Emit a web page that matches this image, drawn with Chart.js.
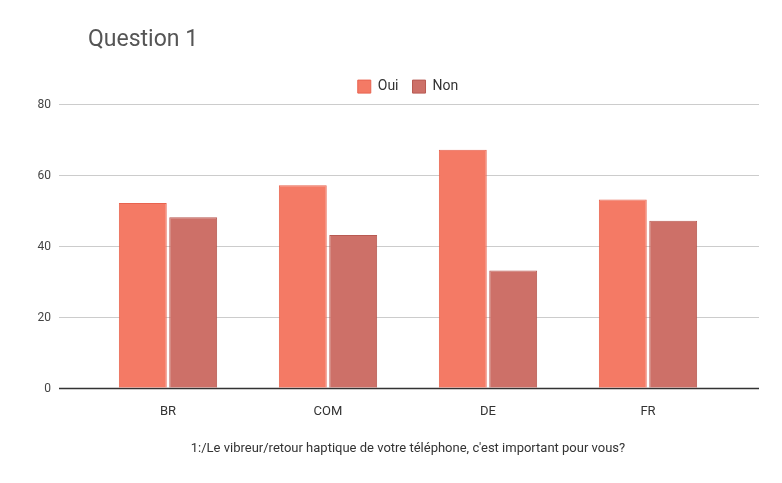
<!DOCTYPE html><html><head><meta charset="utf-8">
<script src="https://cdn.jsdelivr.net/npm/chart.js@4"></script>
<style>html,body{margin:0;padding:0;background:#fff}#w{width:782px;height:483px}</style></head><body>
<div id="w"><canvas id="c"></canvas></div>
<script>
const categories=["BR","COM","DE","FR"];
const oui=[52,57,67,53];
const non=[48,43,33,47];
const yTicks=[0,20,40,60,80];
const gridPlugin={id:"g",beforeDatasetsDraw(ch){const c=ch.ctx,y=ch.scales.y;c.save();c.font="12px Roboto, Arial";c.fillStyle="#444";c.textAlign="right";c.textBaseline="middle";
yTicks.forEach(v=>{const p=Math.round(y.getPixelForValue(v))+0.5;c.strokeStyle=v===0?"#333":"#ccc";c.lineWidth=v===0?1.5:1;c.beginPath();c.moveTo(59,p);c.lineTo(759,p);c.stroke();c.fillText(String(v),51,p);});c.restore();}};
new Chart(document.getElementById("c"),{type:"bar",data:{labels:categories,datasets:[
{label:"Oui",data:oui,backgroundColor:"#f47a65",borderColor:"#e8634f",borderWidth:1,categoryPercentage:0.63,barPercentage:0.95},
{label:"Non",data:non,backgroundColor:"#cd7068",borderColor:"#b85a52",borderWidth:1,categoryPercentage:0.63,barPercentage:0.95}]},
options:{responsive:true,maintainAspectRatio:false,animation:false,layout:{padding:{left:88,right:54,top:0,bottom:22}},
plugins:{tooltip:{enabled:false},title:{display:true,text:"Question 1",align:"start",color:"#555",font:{family:"Roboto, Arial",size:23,weight:"normal"},padding:{top:26,bottom:12}},
legend:{labels:{boxWidth:13,boxHeight:13,color:"#333",font:{family:"Roboto, Arial",size:14},padding:14},padding:20}},
scales:{y:{display:false,min:0,max:80},x:{grid:{display:false},border:{display:false},ticks:{color:"#333",font:{family:"Roboto, Arial",size:13},padding:8},
title:{display:true,text:"1:/Le vibreur/retour haptique de votre téléphone, c'est important pour vous?",color:"#333",font:{family:"Roboto, Arial",size:13},padding:{top:14}}}}},
plugins:[gridPlugin]});
</script></body></html>
